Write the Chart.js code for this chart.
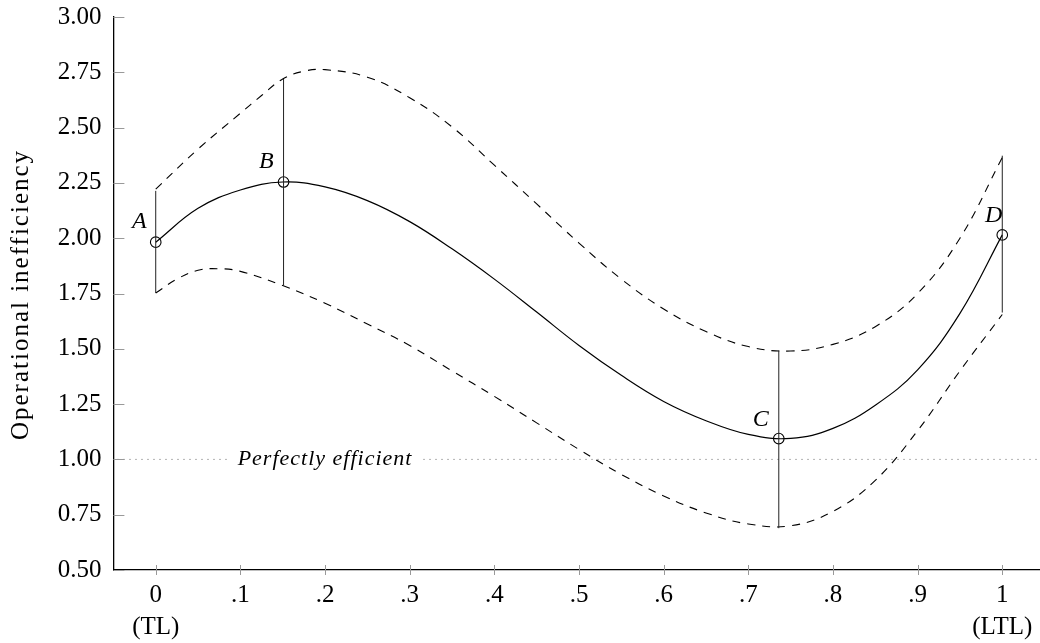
<!DOCTYPE html>
<html><head><meta charset="utf-8">
<script src="https://cdn.jsdelivr.net/npm/chart.js@4.4.0/dist/chart.umd.min.js"></script>
<style>html,body{margin:0;padding:0;background:#fff;overflow:hidden;width:1040px;height:643px}canvas{display:block}</style>
</head><body>
<canvas id="c" width="1051" height="643" style="width:1051px;height:643px"></canvas>
<script>
// ---- data ----
const xTickValues = [0, 0.1, 0.2, 0.3, 0.4, 0.5, 0.6, 0.7, 0.8, 0.9, 1];
const xTickLabels = ['0', '.1', '.2', '.3', '.4', '.5', '.6', '.7', '.8', '.9', '1'];
const xTickSubLabels = ['(TL)', '', '', '', '', '', '', '', '', '', '(LTL)'];
const yTickValues = [0.5, 0.75, 1, 1.25, 1.5, 1.75, 2, 2.25, 2.5, 2.75, 3];
const yTickLabels = ['0.50', '0.75', '1.00', '1.25', '1.50', '1.75', '2.00', '2.25', '2.50', '2.75', '3.00'];
const yTitle = 'Operational inefficiency';

const mainX = [0, 0.05, 0.1, 0.15, 0.2, 0.25, 0.3, 0.35, 0.4, 0.45, 0.5, 0.55, 0.6, 0.65, 0.7, 0.75, 0.8, 0.85, 0.9, 0.95, 1.0];
const mainY = [1.982, 2.135, 2.218, 2.254, 2.232, 2.17, 2.075, 1.952, 1.815, 1.666, 1.515, 1.38, 1.262, 1.175, 1.113, 1.095, 1.14, 1.245, 1.405, 1.66, 2.015];

const upperX = [0, 0.05, 0.1, 0.125, 0.15, 0.175, 0.2, 0.25, 0.3, 0.35, 0.4, 0.45, 0.5, 0.55, 0.6, 0.65, 0.7, 0.75, 0.8, 0.85, 0.9, 0.95, 1.0];
const upperY = [2.222, 2.403, 2.565, 2.645, 2.72, 2.755, 2.762, 2.728, 2.635, 2.503, 2.33, 2.155, 1.978, 1.815, 1.68, 1.578, 1.51, 1.49, 1.52, 1.60, 1.75, 2.0, 2.365];

const lowerX = [0, 0.025, 0.05, 0.075, 0.1, 0.15, 0.2, 0.25, 0.3, 0.35, 0.4, 0.45, 0.5, 0.55, 0.6, 0.65, 0.7, 0.75, 0.8, 0.85, 0.9, 0.95, 1.0];
const lowerY = [1.752, 1.815, 1.855, 1.862, 1.85, 1.786, 1.706, 1.612, 1.515, 1.40, 1.285, 1.165, 1.045, 0.932, 0.835, 0.758, 0.708, 0.70, 0.765, 0.905, 1.13, 1.40, 1.655];

const pointNames = ['A', 'B', 'C', 'D'];
const pointX = [0, 0.151, 0.736, 1.0];
const pointY = [1.982, 2.254, 1.094, 2.015];
const errLow = [1.752, 1.786, 0.689, 1.664];
const errHigh = [2.214, 2.72, 1.492, 2.373];

const refValue = 1.0;
const refLabel = 'Perfectly efficient';
const refLabelAt = 0.2;

// ---- styles ----
const letterDx = [-9, -10, -10, 0];
const letterDy = [-14, -14, -13, -13];
const FONT = '"Liberation Serif", "Times New Roman", serif';

const zip = (xs, ys) => xs.map((x, i) => ({x: x, y: ys[i]}));

const datasets = [];
pointX.forEach((x, i) => {
  datasets.push({
    data: [{x: x, y: errLow[i]}, {x: x, y: errHigh[i]}],
    borderColor: '#222', borderWidth: 1, pointRadius: 0, tension: 0
  });
});
const curveStyle = {borderColor: '#000', pointRadius: 0, tension: 0.4};
datasets.push(Object.assign({data: zip(upperX, upperY), borderWidth: 1.1, borderDash: [8, 7]}, curveStyle));
datasets.push(Object.assign({data: zip(lowerX, lowerY), borderWidth: 1.1, borderDash: [8, 7]}, curveStyle));
datasets.push(Object.assign({data: zip(mainX, mainY), borderWidth: 1.2}, curveStyle));
datasets.push({data: zip(pointX, pointY), showLine: false, pointRadius: 5.3, pointStyle: 'circle', pointBorderColor: '#000', pointBackgroundColor: 'rgba(0,0,0,0)', pointBorderWidth: 1.1});

const decor = {
  id: 'decor',
  beforeDatasetsDraw(chart) {
    const {ctx, chartArea: a, scales: {x, y}} = chart;
    const py = y.getPixelForValue(refValue);
    const cx = x.getPixelForValue(refLabelAt);
    ctx.save();
    ctx.font = 'italic 22px ' + FONT;
    ctx.letterSpacing = '1px';
    const w = ctx.measureText(refLabel).width;
    const gap = 11;
    ctx.strokeStyle = '#808080'; ctx.lineWidth = 1; ctx.setLineDash([1.2, 4.8]);
    ctx.beginPath();
    ctx.moveTo(a.left + 4, py); ctx.lineTo(cx - w / 2 - gap, py);
    ctx.moveTo(cx + w / 2 + gap, py); ctx.lineTo(a.right, py);
    ctx.stroke();
    ctx.setLineDash([]);
    ctx.fillStyle = '#000'; ctx.textAlign = 'center'; ctx.textBaseline = 'middle';
    ctx.fillText(refLabel, cx, py);
    ctx.restore();
  },
  afterDraw(chart) {
    const {ctx, chartArea: a, scales: {x, y}} = chart;
    ctx.save();
    ctx.strokeStyle = '#999'; ctx.lineWidth = 1;
    ctx.beginPath();
    yTickValues.forEach(v => { const p = Math.round(y.getPixelForValue(v)) + 0.5; ctx.moveTo(a.left, p); ctx.lineTo(a.left + 11, p); });
    xTickValues.forEach(v => { const p = Math.round(x.getPixelForValue(v)) + 0.5; ctx.moveTo(p, a.bottom - 5); ctx.lineTo(p, a.bottom + 5); });
    ctx.stroke();
    ctx.fillStyle = '#000';
    ctx.font = 'italic 24px ' + FONT;
    ctx.textAlign = 'right'; ctx.textBaseline = 'alphabetic';
    pointNames.forEach((n, i) => {
      ctx.fillText(n, x.getPixelForValue(pointX[i]) + letterDx[i], y.getPixelForValue(pointY[i]) + letterDy[i]);
    });
    // y-axis title
    ctx.save();
    ctx.translate(21, (a.top + a.bottom) / 2 + 2);
    ctx.rotate(-Math.PI / 2);
    ctx.font = '25px ' + FONT;
    ctx.letterSpacing = '2px';
    ctx.textAlign = 'center'; ctx.textBaseline = 'middle';
    ctx.fillText(yTitle, 1, 0);
    ctx.restore();
    ctx.restore();
  }
};

Chart.defaults.font.family = FONT;
new Chart(document.getElementById('c'), {
  type: 'line',
  data: {datasets: datasets},
  options: {
    responsive: false, animation: false, events: [],
    layout: {padding: {left: 0, right: 1, top: 17, bottom: 0}},
    plugins: {legend: {display: false}, tooltip: {enabled: false}},
    scales: {
      x: {
        type: 'linear', min: -0.05, max: 1.05,
        grid: {display: true, color: 'rgba(0,0,0,0)', drawOnChartArea: false, drawTicks: false, tickLength: 0},
        border: {display: true, color: '#000', width: 1.3},
        afterBuildTicks: s => { s.ticks = xTickValues.map(v => ({value: v})); },
        afterFit: s => { s.height = 73; s.paddingLeft = 0; s.paddingRight = 0; },
        ticks: {
          autoSkip: false, maxRotation: 0, padding: 9, color: '#000',
          font: {size: 25, lineHeight: '32px'},
          callback: (v, i) => xTickSubLabels[i] ? [xTickLabels[i], xTickSubLabels[i]] : xTickLabels[i]
        }
      },
      y: {
        type: 'linear', min: 0.5, max: 3,
        grid: {display: true, color: 'rgba(0,0,0,0)', drawOnChartArea: false, drawTicks: false, tickLength: 0},
        border: {display: true, color: '#000', width: 1.3},
        afterBuildTicks: s => { s.ticks = yTickValues.map(v => ({value: v})); },
        afterFit: s => { s.width = 113.4; s.paddingTop = 0; s.paddingBottom = 0; },
        ticks: {autoSkip: false, padding: 12, color: '#000', font: {size: 25}, callback: (v, i) => yTickLabels[i]},
        title: {display: false}
      }
    }
  },
  plugins: [decor]
});
</script>
</body></html>
